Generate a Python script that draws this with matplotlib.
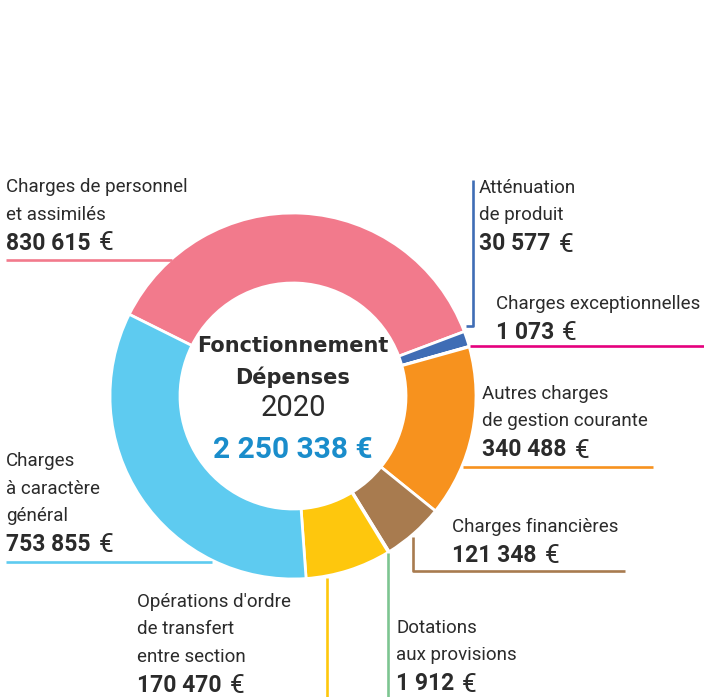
import matplotlib
matplotlib.use("Agg")
from matplotlib import pyplot as plt

# Fonctionnement - Dépenses 2020
categories = [
    "Charges de personnel\net assimilés",
    "Atténuation\nde produit",
    "Charges exceptionnelles",
    "Autres charges\nde gestion courante",
    "Charges financières",
    "Dotations\naux provisions",
    "Opérations d'ordre\nde transfert\nentre section",
    "Charges\nà caractère\ngénéral",
]
values = [830615, 30577, 1073, 340488, 121348, 1912, 170470, 753855]
colors = ["#f27a8c", "#3f6db5", "#e5007d", "#f7921e",
          "#a87b4f", "#7dc591", "#fec70d", "#5ecbf0"]

W, H = 704, 697
txt_col = "#2b2b2b"
base_font = "Roboto"


def fmt(v):
    return f"{v:,}".replace(",", " ")


fig = plt.figure(figsize=(W / 100, H / 100), dpi=100)
ax = fig.add_axes([0, 0, 1, 1])

cx, cy, r = 293, H - 396, 183
ax.pie(values, colors=colors, startangle=153.5, counterclock=False,
       center=(cx, cy), radius=r, frame=True,
       wedgeprops=dict(width=70, edgecolor="white", linewidth=2))
ax.set_xlim(0, W)
ax.set_ylim(0, H)
ax.set_aspect("equal")
ax.axis("off")
renderer = fig.canvas.get_renderer()


def Y(y):
    return H - y


# label blocks: (x, y of first line)
label_pos = [
    (6, 187), (479, 188), (496, 304), (482, 394),
    (452, 527), (396, 628), (137, 602), (6, 461),
]
gap = 27.5
for (x, y0), name, v in zip(label_pos, categories, values):
    lines = name.split("\n")
    for i, line in enumerate(lines):
        ax.text(x, Y(y0 + i * gap), line, fontsize=13.5, family=base_font,
                color=txt_col, va="center", ha="left")
    yv = Y(y0 + len(lines) * gap + 1)
    t = ax.text(x, yv, fmt(v), fontsize=16.5, family=base_font,
                fontweight="bold", color=txt_col, va="center", ha="left")
    bb = t.get_window_extent(renderer)
    ax.text(bb.x1 + 8, yv - 0.5, "€", fontsize=19, family=base_font,
            color=txt_col, va="center", ha="left")

# leader lines
lw = 1.9
leaders = [
    ([6, 172], [260, 260]),
    ([466, 473, 473], [326, 326, 180]),
    ([470, 704], [346, 346]),
    ([463, 653], [467, 467]),
    ([413, 413, 625], [537, 571, 571]),
    ([388, 388], [553, 697]),
    ([327, 327], [578, 697]),
    ([6, 212], [562, 562]),
]
for (xs, ys), c in zip(leaders, colors):
    ax.plot(xs, [Y(y) for y in ys], color=c, lw=lw, solid_capstyle="butt", zorder=1)

# centre text
ax.text(cx, Y(346), "Fonctionnement", fontsize=15, family="DejaVu Sans",
        fontweight="bold", color=txt_col, ha="center", va="center")
ax.text(cx, Y(377), "Dépenses", fontsize=15, family="DejaVu Sans",
        fontweight="bold", color=txt_col, ha="center", va="center")
ax.text(cx, Y(408), "2020", fontsize=21, family=base_font,
        color=txt_col, ha="center", va="center")
ax.text(cx, Y(450), fmt(sum(values)) + " €", fontsize=21.5, family=base_font,
        fontweight="bold", color="#1a8dcb", ha="center", va="center")

fig.savefig("out.png", dpi=100)
